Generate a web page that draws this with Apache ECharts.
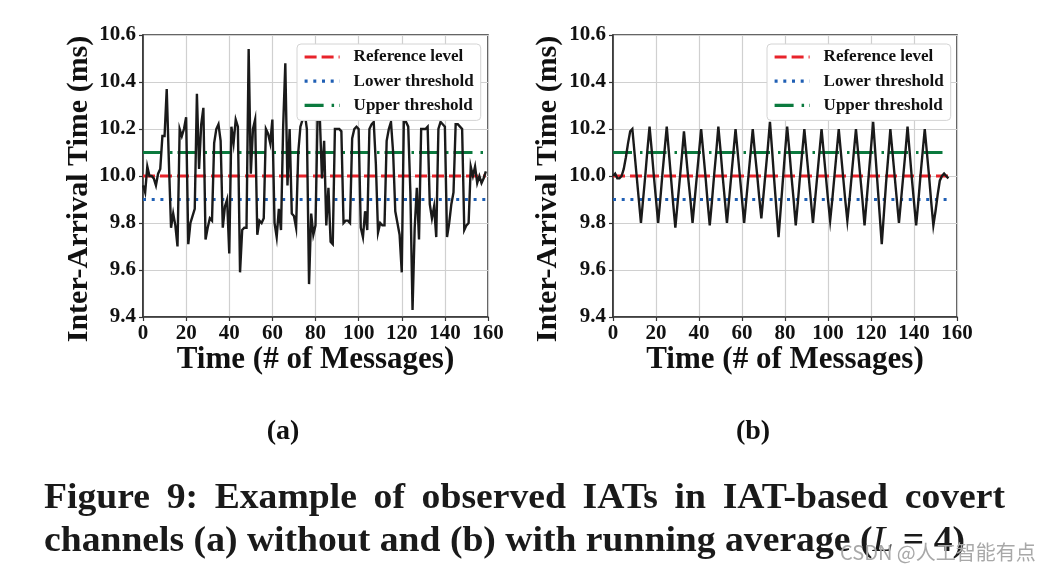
<!DOCTYPE html>
<html><head><meta charset="utf-8">
<script src="https://cdn.jsdelivr.net/npm/echarts@6/dist/echarts.min.js"></script>
<style>html,body{margin:0;padding:0;background:#fff;}#c{width:1053px;height:574px;}</style>
</head><body><div id="c"></div>
<script>
// ---------- data ----------
const xTicks = ['0','20','40','60','80','100','120','140','160'];
const yTicks = ['9.4','9.6','9.8','10.0','10.2','10.4','10.6'];
const seriesNames = ['Reference level','Lower threshold','Upper threshold'];
const referenceLevel = 10.0;
const lowerThreshold = 9.9;
const upperThreshold = 10.1;
// (a) observed IATs without running average
const iatWithout = [
 9.96, 9.93, 10.04, 10.00, 10.00, 9.99, 9.96, 10.01, 10.03,
 10.17, 10.17, 10.37, 10.06,  9.78, 9.84, 9.79, 9.70,
 10.20, 10.17, 10.20, 10.25,  9.71, 9.80, 9.83, 9.86,
 10.35, 10.03, 10.22, 10.29,  9.73, 9.78, 9.82, 9.81,
 10.14, 10.20, 10.22, 10.15,  9.78, 9.87, 9.90, 9.67,
 10.21, 10.14, 10.24, 10.21,  9.59, 9.77, 9.78, 9.78,
 10.54, 10.01, 10.20, 10.24,  9.75, 9.81, 9.80, 9.82,
 10.20, 10.18, 10.14, 10.24,  9.80, 9.74, 9.86, 9.77,
 10.21, 10.48, 9.96, 10.20,   9.84, 9.83, 9.78, 10.10,
 10.21, 10.24, 10.27, 10.20,  9.54, 9.84, 9.75, 9.79,
 10.27, 10.25, 9.99, 10.15,   9.79, 9.95, 9.72, 9.71,
 10.20, 10.20, 10.20, 10.19,  9.80, 9.81, 9.81, 9.80,
 10.16, 10.20, 10.21, 10.20,  9.78, 9.74, 9.85, 9.77,
 10.20, 10.22, 10.23, 10.05,  9.76, 9.80, 9.79, 9.79,
 10.15, 10.20, 10.23, 10.10,  9.85, 9.80, 9.75, 9.59,
 10.26, 10.23, 10.21, 9.93,   9.43, 9.78, 9.95, 9.73,
 10.20, 10.20, 10.20, 10.21,  9.88, 9.82, 9.87, 9.74,
 10.20, 10.23, 10.22, 10.21,  9.74, 9.80, 9.88, 9.93,
 10.22, 10.22, 10.21, 10.20,  9.77, 9.79, 9.80, 10.04,
 10.00, 10.04, 9.97, 10.00, 9.97, 9.99, 10.02
];
// (b) observed IATs with running average (L = 4)
const iatWith = [
 10.00, 10.01, 9.99, 9.99, 10.00, 10.03, 10.08, 10.14, 10.19, 10.20,
 10.10, 10.00, 9.90, 9.80, 9.90, 10.00, 10.11, 10.21,
 10.11, 10.00, 9.90, 9.80, 9.90, 10.01, 10.11, 10.21,
 10.10, 9.99, 9.88, 9.78, 9.88, 9.98, 10.08, 10.19,
 10.09, 9.99, 9.90, 9.80, 9.90, 10.00, 10.10, 10.20,
 10.10, 10.00, 9.89, 9.79, 9.89, 10.00, 10.10, 10.21,
 10.11, 10.00, 9.90, 9.80, 9.90, 10.00, 10.10, 10.20,
 10.10, 10.00, 9.90, 9.80, 9.90, 10.00, 10.10, 10.20,
 10.10, 10.01, 9.91, 9.82, 9.92, 10.02, 10.12, 10.23,
 10.11, 9.98, 9.86, 9.74, 9.86, 9.98, 10.10, 10.21,
 10.11, 10.00, 9.90, 9.79, 9.89, 10.00, 10.10, 10.20,
 10.10, 10.00, 9.90, 9.80, 9.90, 10.00, 10.10, 10.20,
 10.10, 10.00, 9.90, 9.81, 9.90, 10.00, 10.10, 10.20,
 10.10, 10.00, 9.90, 9.81, 9.90, 10.00, 10.10, 10.20,
 10.10, 10.00, 9.90, 9.79, 9.90, 10.01, 10.12, 10.23,
 10.10, 9.97, 9.84, 9.71, 9.84, 9.97, 10.08, 10.20,
 10.10, 10.00, 9.90, 9.80, 9.90, 10.00, 10.10, 10.21,
 10.10, 9.99, 9.89, 9.79, 9.89, 10.00, 10.10, 10.20,
 10.10, 10.00, 9.89, 9.79, 9.85, 9.92, 9.98, 10.00, 10.01, 10.00, 9.99
];
const captionLine1 = ['Figure','9:','Example','of','observed','IATs','in','IAT-based','covert'];
const captionLine2 = ['channels (a) without and (b) with running average (', 'L', ' = 4)'];
const panelLabels = ['(a)','(b)'];
const xName = 'Time (# of Messages)';
const yName = 'Inter-Arrival Time (ms)';

// ---------- styles ----------
const SERIF = '"Liberation Serif", "Times New Roman", serif';
const RED = '#e8232b', BLUE = '#1f5fb4', GREEN = '#0b7a3e';
const panels = [
  {left:143, width:345, legendLeft:297, yNameX:79, labelX:283, data:iatWithout},
  {left:613, width:344, legendLeft:767, yNameX:548, labelX:753, data:iatWith}
];

const chart = echarts.init(document.getElementById('c'), null, {renderer:'canvas'});

const grids = [], xAxes = [], yAxes = [], series = [], legends = [], graphics = [];
panels.forEach((p, gi) => {
  grids.push({left:p.left, top:35, width:p.width, height:282, show:true,
    borderColor:'#333', borderWidth:1.6, backgroundColor:'rgba(0,0,0,0)'});
  xAxes.push({type:'value', gridIndex:gi, min:0, max:160, interval:20,
    axisLine:{show:true, onZero:false, lineStyle:{color:'#333', width:1.6}},
    axisTick:{show:true, length:4, lineStyle:{color:'#333', width:1.2}},
    splitLine:{show:true, lineStyle:{color:'#d0d0d0', width:1.2}},
    axisLabel:{margin:6, fontFamily:SERIF, fontWeight:'bold', fontSize:21, color:'#111',
      formatter:(v)=>xTicks[Math.round(v/20)]}
  });
  yAxes.push({type:'value', gridIndex:gi, min:9.4, max:10.6, interval:0.2,
    axisLine:{show:true, onZero:false, lineStyle:{color:'#333', width:1.6}},
    axisTick:{show:true, length:4, lineStyle:{color:'#333', width:1.2}},
    splitLine:{show:true, lineStyle:{color:'#d0d0d0', width:1.2}},
    axisLabel:{margin:7, fontFamily:SERIF, fontWeight:'bold', fontSize:21, color:'#111',
      formatter:(v)=>yTicks[Math.round((v-9.4)/0.2)]}
  });
  const last = p.data.length - 1;
  const hl = (name, val, color, dash) => ({
    name, type:'line', xAxisIndex:gi, yAxisIndex:gi, symbol:'none', silent:true,
    data:[[0,val],[last,val]], z:2,
    lineStyle:{color, width:3.2, type:dash, cap:'butt'}, itemStyle:{color}
  });
  series.push(hl(seriesNames[0], referenceLevel, RED, [12,5]));
  series.push(hl(seriesNames[1], lowerThreshold, BLUE, [3,5.7]));
  series.push(hl(seriesNames[2], upperThreshold, GREEN, [19,8,2.5,5]));
  series.push({name:'IAT '+panelLabels[gi], type:'line', xAxisIndex:gi, yAxisIndex:gi,
    symbol:'none', silent:true, z:3, data:p.data.map((v,i)=>[i,v]),
    lineStyle:{color:'#1a1a1a', width:2.4, join:'miter'}});
  legends.push({data:seriesNames, orient:'vertical', left:p.legendLeft, top:44,
    padding:[4,7,6,6], itemGap:6.2, itemWidth:35, itemHeight:14,
    backgroundColor:'#fff', borderColor:'#d4d4d4', borderWidth:1, borderRadius:4,
    selectedMode:false, z:10,
    itemStyle:{opacity:0, color:'rgba(0,0,0,0)', borderWidth:0},
    lineStyle:{width:3.2},
    textStyle:{fontFamily:SERIF, fontWeight:'bold', fontSize:17, lineHeight:18, color:'#111', padding:[0,0,0,9]}
  });
  // axis names and panel labels
  graphics.push({type:'text', x:p.yNameX, y:189, rotation:Math.PI/2,
    style:{text:yName, font:'bold 30px '+SERIF, fill:'#111', align:'center', verticalAlign:'middle', textAlign:'center', textVerticalAlign:'middle'}});
  graphics.push({type:'text', x:p.left + p.width/2, y:360,
    style:{text:xName, font:'bold 31px '+SERIF, fill:'#111', align:'center', verticalAlign:'middle', textAlign:'center', textVerticalAlign:'middle'}});
  graphics.push({type:'text', x:p.labelX, y:432,
    style:{text:panelLabels[gi], font:'bold 28px '+SERIF, fill:'#111', align:'center', verticalAlign:'middle', textAlign:'center', textVerticalAlign:'middle'}});
});

// caption (justified first line)
const cv = document.createElement('canvas').getContext('2d');
const capFont = 'bold 36px ' + SERIF;
const capItal = 'italic 36px ' + SERIF;
cv.font = capFont;
const w2a = cv.measureText(captionLine2[0]).width;
const w2c = cv.measureText(captionLine2[2]).width;
cv.font = capItal;
const w2b = cv.measureText(captionLine2[1]).width;
const capLeft = 44, capRight1 = 1005, capRight2 = 965;
const sx = (capRight2 - capLeft) / (w2a + w2b + w2c);
cv.font = capFont;
const wordW = captionLine1.map(w => cv.measureText(w).width * sx);
const totalW = wordW.reduce((a,b)=>a+b,0);
const gap = (capRight1 - capLeft - totalW) / (captionLine1.length - 1);
let cx = capLeft;
captionLine1.forEach((w, i) => {
  graphics.push({type:'text', x:cx, y:499, scaleX:sx,
    style:{text:w, font:capFont, fill:'#1a1a1a', align:'left', verticalAlign:'middle', textAlign:'left', textVerticalAlign:'middle'}});
  cx += wordW[i] + gap;
});
let cx2 = capLeft;
[[captionLine2[0], capFont, w2a],[captionLine2[1], capItal, w2b],[captionLine2[2], capFont, w2c]].forEach(([t,f,w]) => {
  graphics.push({type:'text', x:cx2, y:542, scaleX:sx,
    style:{text:t, font:f, fill:'#1a1a1a', align:'left', verticalAlign:'middle', textAlign:'left', textVerticalAlign:'middle'}});
  cx2 += w * sx;
});
// watermark
graphics.push({type:'text', x:840, y:552, z:100,
  style:{text:'CSDN @人工智能有点', font:'20px "Noto Sans CJK SC", "Noto Sans", sans-serif', fill:'#a8a8a8', align:'left', verticalAlign:'middle', textAlign:'left', textVerticalAlign:'middle'}});

chart.setOption({
  animation:false,
  backgroundColor:'#fff',
  grid:grids, xAxis:xAxes, yAxis:yAxes, series:series, legend:legends,
  graphic:{elements:graphics}
});
</script>
</body></html>
